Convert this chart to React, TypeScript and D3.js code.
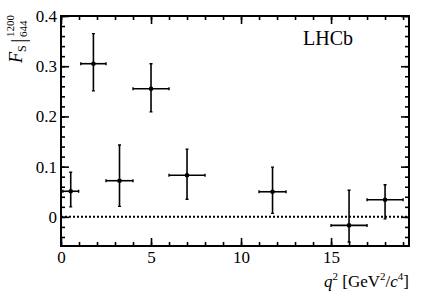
import React, { useEffect, useRef } from "react";
import * as d3 from "d3";

// q^2 bins [GeV^2/c^4]
const binLow = [0.1, 1.1, 2.5, 4.0, 6.0, 11.0, 15.0, 17.0];
const binHigh = [0.98, 2.5, 4.0, 6.0, 8.0, 12.5, 17.0, 19.0];
// F_S values and error band edges
const fsValue = [0.051, 0.305, 0.072, 0.255, 0.083, 0.05, -0.017, 0.034];
const fsHigh = [0.089, 0.365, 0.143, 0.305, 0.135, 0.099, 0.053, 0.064];
const fsLow = [0.02, 0.251, 0.021, 0.209, 0.035, 0.007, -0.05, -0.004];

const xMajor = [0, 5, 10, 15];
const xMinor = d3.range(0, 20, 1);
const yMajor = [0, 0.1, 0.2, 0.3, 0.4];
const yMinor = d3.range(-0.04, 0.41, 0.02);

const W = 432;
const H = 294;
const FONT = "Liberation Serif, Times New Roman, serif";

const App = () => {
  const svgRef = useRef<SVGSVGElement>(null);

  useEffect(() => {
    const svg = d3.select(svgRef.current);
    svg.selectAll("*").remove();

    const left = 61, right = 409, top = 16, bottom = 246;
    const x = d3.scaleLinear().domain([0, 19.33]).range([left, right]);
    const y = d3.scaleLinear().domain([-0.058, 0.4]).range([bottom, top]);

    const points = fsValue.map((v, i) => ({
      lo: binLow[i],
      hi: binHigh[i],
      c: (binLow[i] + binHigh[i]) / 2,
      v,
      yHi: fsHigh[i],
      yLo: fsLow[i],
    }));

    const styleAxis = (g, drawLabels) => {
      g.attr("font-family", FONT).attr("font-size", 17);
      g.select(".domain").remove();
      g.selectAll("line").attr("stroke", "#000").attr("stroke-width", 1.6);
      if (drawLabels) {
        g.selectAll("text")
          .attr("font-family", FONT)
          .attr("font-size", 17)
          .attr("fill", "#000");
      } else {
        g.selectAll("text").remove();
      }
    };

    // zero line
    svg
      .append("line")
      .attr("x1", x(0))
      .attr("x2", right)
      .attr("y1", y(0))
      .attr("y2", y(0))
      .attr("stroke", "#000")
      .attr("stroke-width", 2)
      .attr("stroke-dasharray", "2,2");

    // bottom axis
    svg
      .append("g")
      .attr("transform", `translate(0,${bottom})`)
      .call(d3.axisBottom(x).tickValues(xMinor).tickSizeInner(-4).tickFormat(() => ""))
      .call((g) => styleAxis(g, false));
    svg
      .append("g")
      .attr("transform", `translate(0,${bottom})`)
      .call(d3.axisBottom(x).tickValues(xMajor).tickSizeInner(-8).tickPadding(5).tickFormat(d3.format("d")))
      .call((g) => styleAxis(g, true));

    // top axis
    svg
      .append("g")
      .attr("transform", `translate(0,${top})`)
      .call(d3.axisTop(x).tickValues(xMinor).tickSizeInner(-4))
      .call((g) => styleAxis(g, false));
    svg
      .append("g")
      .attr("transform", `translate(0,${top})`)
      .call(d3.axisTop(x).tickValues(xMajor).tickSizeInner(-8))
      .call((g) => styleAxis(g, false));

    // left axis
    svg
      .append("g")
      .attr("transform", `translate(${left},0)`)
      .call(d3.axisLeft(y).tickValues(yMinor).tickSizeInner(-4).tickFormat(() => ""))
      .call((g) => styleAxis(g, false));
    svg
      .append("g")
      .attr("transform", `translate(${left},0)`)
      .call(d3.axisLeft(y).tickValues(yMajor).tickSizeInner(-8).tickPadding(4).tickFormat((d) => (d === 0 ? "0" : d3.format(".1f")(d))))
      .call((g) => styleAxis(g, true));

    // right axis
    svg
      .append("g")
      .attr("transform", `translate(${right},0)`)
      .call(d3.axisRight(y).tickValues(yMinor).tickSizeInner(-4))
      .call((g) => styleAxis(g, false));
    svg
      .append("g")
      .attr("transform", `translate(${right},0)`)
      .call(d3.axisRight(y).tickValues(yMajor).tickSizeInner(-8))
      .call((g) => styleAxis(g, false));

    // frame
    svg
      .append("rect")
      .attr("x", left)
      .attr("y", top)
      .attr("width", right - left)
      .attr("height", bottom - top)
      .attr("fill", "none")
      .attr("stroke", "#000")
      .attr("stroke-width", 2);

    // data points with error bars
    const pts = svg.append("g").selectAll("g").data(points).join("g");
    pts
      .append("line")
      .attr("x1", (d) => x(d.lo))
      .attr("x2", (d) => x(d.hi))
      .attr("y1", (d) => y(d.v))
      .attr("y2", (d) => y(d.v))
      .attr("stroke", "#000")
      .attr("stroke-width", 1.6);
    pts
      .append("line")
      .attr("x1", (d) => x(d.c))
      .attr("x2", (d) => x(d.c))
      .attr("y1", (d) => y(d.yLo))
      .attr("y2", (d) => y(d.yHi))
      .attr("stroke", "#000")
      .attr("stroke-width", 1.6);
    // small end caps
    pts
      .append("path")
      .attr("d", (d) => {
        const cx = x(d.c), cy = y(d.v);
        return (
          `M${x(d.lo)},${cy - 1.5}V${cy + 1.5}M${x(d.hi)},${cy - 1.5}V${cy + 1.5}` +
          `M${cx - 1.5},${y(d.yLo)}H${cx + 1.5}M${cx - 1.5},${y(d.yHi)}H${cx + 1.5}`
        );
      })
      .attr("stroke", "#000")
      .attr("stroke-width", 1.4);
    pts
      .append("circle")
      .attr("cx", (d) => x(d.c))
      .attr("cy", (d) => y(d.v))
      .attr("r", 2.3)
      .attr("fill", "#000");

    // LHCb label
    svg
      .append("text")
      .attr("x", 303)
      .attr("y", 45)
      .attr("font-family", FONT)
      .attr("font-size", 20)
      .text("LHCb");

    // x-axis title
    const xt = svg
      .append("text")
      .attr("x", right)
      .attr("y", 287)
      .attr("text-anchor", "end")
      .attr("font-family", FONT)
      .attr("font-size", 17);
    xt.append("tspan").attr("font-style", "italic").text("q");
    xt.append("tspan").attr("font-size", 11).attr("dy", -7).text("2");
    xt.append("tspan").attr("dy", 7).text(" [GeV");
    xt.append("tspan").attr("font-size", 11).attr("dy", -7).text("2");
    xt.append("tspan").attr("dy", 7).text("/");
    xt.append("tspan").attr("font-style", "italic").text("c");
    xt.append("tspan").attr("font-size", 11).attr("dy", -7).text("4");
    xt.append("tspan").attr("dy", 7).text("]");

    // y-axis title, rotated
    const yt = svg
      .append("g")
      .attr("transform", "translate(22,63) rotate(-90)")
      .attr("font-family", FONT);
    yt.append("text")
      .attr("font-size", 18)
      .attr("font-style", "italic")
      .attr("x", 0)
      .attr("y", 0)
      .text("F");
    yt.append("text").attr("font-size", 12).attr("x", 11).attr("y", 4).text("S");
    yt.append("text").attr("font-size", 22).attr("x", 20).attr("y", 3).text("|");
    yt.append("text").attr("font-size", 11).attr("x", 26).attr("y", -8).text("1200");
    yt.append("text").attr("font-size", 11).attr("x", 26).attr("y", 5).text("644");
  }, []);

  return (
    <svg
      ref={svgRef}
      width={W}
      height={H}
      style={{ position: "absolute", left: 0, top: 0, background: "#fff" }}
    />
  );
};

export default App;
